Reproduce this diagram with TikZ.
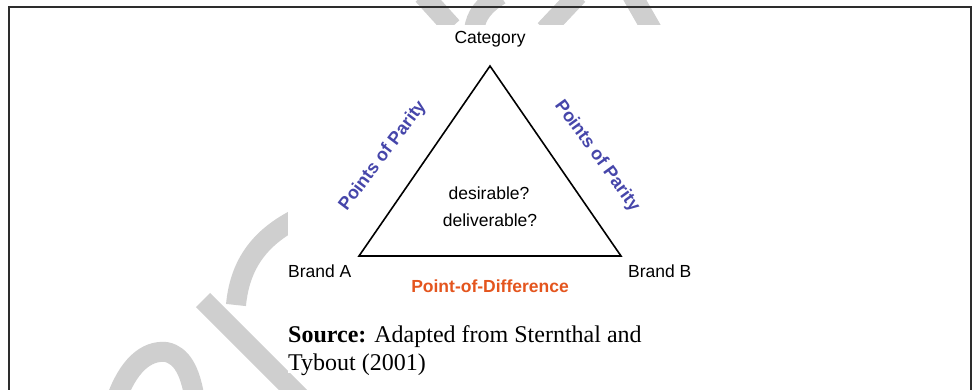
\documentclass[tikz,border=0pt]{standalone}
\usepackage{fontspec}
\setmainfont{Liberation Sans}
\newfontfamily\srcfont{Liberation Serif}
\definecolor{wm}{RGB}{207,207,207}
\definecolor{ppblue}{RGB}{70,70,170}
\definecolor{podred}{RGB}{228,85,30}
\definecolor{framegray}{RGB}{45,45,45}
\tikzset{
  lbl/.style={inner sep=0pt, font=\fontsize{17.5}{20}\selectfont},
  pp/.style={inner sep=0pt, text=ppblue, font=\fontsize{18}{21}\selectfont\bfseries},
  pod/.style={inner sep=0pt, text=podred, font=\fontsize{17.5}{21}\selectfont\bfseries},
  src/.style={inner sep=0pt, anchor=base west, font=\srcfont\fontsize{24}{27}\selectfont},
  wmark/.style={wm, line width=20pt, line cap=butt},
  tri/.style={draw=black, line width=1.6pt, line join=miter}
}
\begin{document}
\begin{tikzpicture}[x=1pt, y=-1pt]
\useasboundingbox (0,0) rectangle (974,390);
\fill[white] (0,0) rectangle (974,390);
% watermark pieces
\begin{scope}
\clip (0,0) rectangle (974,390);
\draw[wmark] (203,300) -- (312,409);
\draw[wmark] (236,305) .. controls (240,262) and (262,236) .. (298,218);
\draw[wmark] (116,400) .. controls (128,366) and (146,350) .. (166,352) .. controls (182,355) and (190,372) .. (194,395);
\draw[wmark] (423,-5) -- (452,27);
\draw[wmark] (500,-5) .. controls (484,5) and (476,15) .. (474,30);
\draw[wmark] (545,30) -- (578,-5);
\draw[wmark] (632,-5) -- (652,30);
\end{scope}
% image area
\fill[white] (288,25) rectangle (720,373);
% frame
\draw[framegray, line width=2.5pt] (9,395) -- (9,7) -- (971,7) -- (971,395);
% triangle
\coordinate (apex) at (490,66);
\coordinate (bl) at (359,256);
\coordinate (br) at (621,256);
\draw[tri] (apex) -- (bl) -- (br) -- cycle;
% labels
\node[lbl] (cat) at (490,39) {Category};
\node[pp, rotate=53] (ppl) at (383,156) {Points of Parity};
\node[pp, rotate=-54] (ppr) at (597,156) {Points of Parity};
\node[lbl] (des) at (489,193) {desirable?};
\node[lbl] (del) at (490,220) {deliverable?};
\node[lbl, anchor=west] (ba) at (288,271) {Brand A};
\node[lbl, anchor=west] (bb) at (628,271) {Brand B};
\node[pod] (pod) at (490,286) {Point-of-Difference};
\node[src] (src1) at (288,342) {\textbf{Source:} Adapted from Sternthal and};
\node[src] (src2) at (288,370) {Tybout (2001)};
\end{tikzpicture}
\end{document}
